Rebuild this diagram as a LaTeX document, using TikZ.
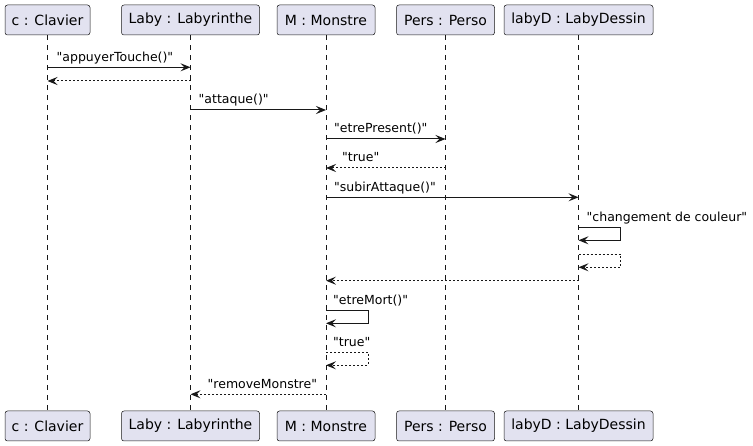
\documentclass[tikz,border=0pt]{standalone}
\usepackage{fontspec}
\setmainfont{DejaVu Sans}[Ligatures=TeXOff]
\usetikzlibrary{arrows.meta}
\definecolor{pfill}{HTML}{E2E2F0}
\definecolor{pline}{HTML}{181818}
\tikzset{
  part/.style={draw=pline, fill=pfill, line width=0.5pt, rounded corners=2.5pt,
    minimum height=30pt, inner sep=0pt, font=\fontsize{14}{16}\selectfont},
  life/.style={draw=pline, line width=0.5pt, dash pattern=on 5pt off 5pt},
  msg/.style={draw=pline, line width=1pt, -{Stealth[length=10pt,width=8pt,inset=4pt]}},
  ret/.style={msg, dash pattern=on 2pt off 2pt},
  lbl/.style={anchor=base west, inner sep=0pt, font=\fontsize{12.5}{14}\selectfont}
}
\begin{document}
\begin{tikzpicture}[x=1pt,y=-1pt]
\useasboundingbox (0,0) rectangle (753,446);
% participants
\node[part, minimum width=85pt]  (cT)  at (47.5,20) {c : Clavier};
\node[part, minimum width=138pt] (lT)  at (190.5,20) {Laby : Labyrinthe};
\node[part, minimum width=98pt]  (mT)  at (326,20) {M : Monstre};
\node[part, minimum width=98pt]  (pT)  at (445.5,20) {Pers : Perso};
\node[part, minimum width=149pt] (dT)  at (578.5,20) {labyD : LabyDessin};
\node[part, minimum width=85pt]  (cB)  at (47.5,426) {c : Clavier};
\node[part, minimum width=138pt] (lB)  at (190.5,426) {Laby : Labyrinthe};
\node[part, minimum width=98pt]  (mB)  at (326,426) {M : Monstre};
\node[part, minimum width=98pt]  (pB)  at (445.5,426) {Pers : Perso};
\node[part, minimum width=149pt] (dB)  at (578.5,426) {labyD : LabyDessin};
% lifelines
\draw[life] (cT) -- (cB);
\draw[life] (lT) -- (lB);
\draw[life] (mT) -- (mB);
\draw[life] (pT) -- (pB);
\draw[life] (dT) -- (dB);
% rows
\coordinate (y1) at (0,67.3);
\coordinate (y2) at (0,81);
\coordinate (y3) at (0,110);
\coordinate (y4) at (0,139);
\coordinate (y5) at (0,168);
\coordinate (y6) at (0,197.3);
\coordinate (y7a) at (0,227.7);
\coordinate (y7b) at (0,240.3);
\coordinate (y8a) at (0,254.3);
\coordinate (y8b) at (0,267.3);
\coordinate (y9) at (0,280.7);
\coordinate (y10a) at (0,310.7);
\coordinate (y10b) at (0,323.3);
\coordinate (y11a) at (0,352.3);
\coordinate (y11b) at (0,365.3);
\coordinate (y12) at (0,394.3);
% messages
\draw[msg] (cT |- y1) -- (lT |- y1);
\node[lbl] (t1) at ([shift={(9,-6)}]cT |- y1) {"appuyerTouche()"};
\draw[ret] (lT |- y2) -- (cT |- y2);
\draw[msg] (lT |- y3) -- (mT |- y3);
\node[lbl] (t3) at ([shift={(8,-6)}]lT |- y3) {"attaque()"};
\draw[msg] (mT |- y4) -- (pT |- y4);
\node[lbl] (t4) at ([shift={(8,-6)}]mT |- y4) {"etrePresent()"};
\draw[ret] (pT |- y5) -- (mT |- y5);
\node[lbl] (t5) at ([shift={(16,-6)}]mT |- y5) {"true"};
\draw[msg] (mT |- y6) -- (dT |- y6);
\node[lbl] (t6) at ([shift={(8,-6)}]mT |- y6) {"subirAttaque()"};
\draw[msg] (dT |- y7a) -- ++(42,0) |- (dT |- y7b);
\node[lbl] (t7) at ([shift={(8,-6)}]dT |- y7a) {"changement de couleur"};
\draw[ret] (dT |- y8a) -- ++(42,0) |- (dT |- y8b);
\draw[ret] (dT |- y9) -- (mT |- y9);
\draw[msg] (mT |- y10a) -- ++(42,0) |- (mT |- y10b);
\node[lbl] (t10) at ([shift={(7,-6)}]mT |- y10a) {"etreMort()"};
\draw[ret] (mT |- y11a) -- ++(42,0) |- (mT |- y11b);
\node[lbl] (t11) at ([shift={(7,-6)}]mT |- y11a) {"true"};
\draw[ret] (mT |- y12) -- (lT |- y12);
\node[lbl] (t12) at ([shift={(17,-6)}]lT |- y12) {"removeMonstre"};
\end{tikzpicture}
\end{document}
